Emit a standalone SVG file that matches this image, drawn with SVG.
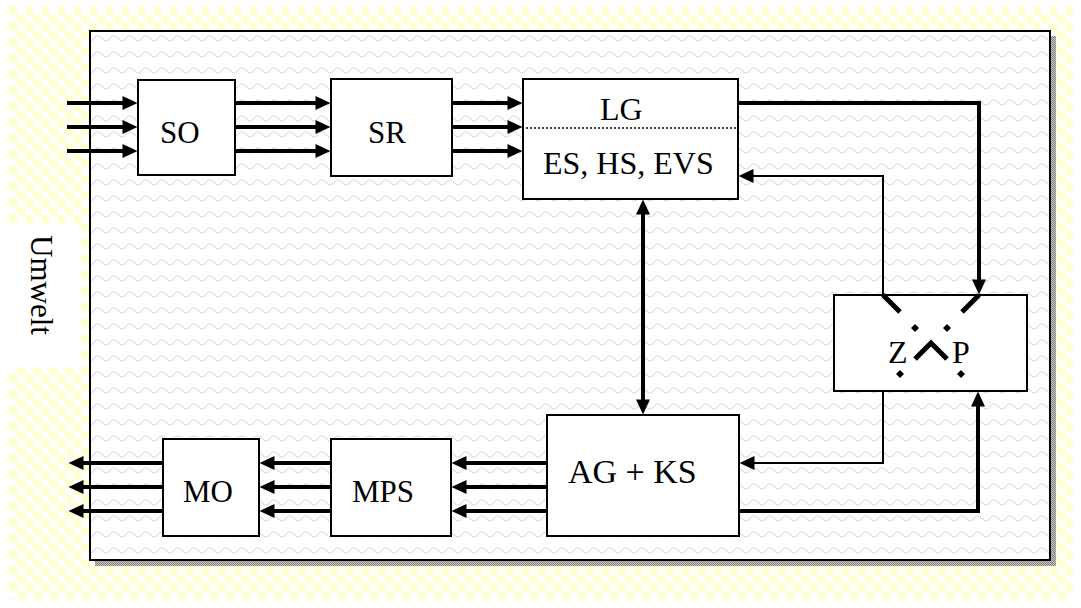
<svg xmlns="http://www.w3.org/2000/svg" width="1081" height="608" viewBox="0 0 1081 608">
<style>
.box{fill:#fff;stroke:#000;stroke-width:2}
.lbl{font-family:"Liberation Serif","Times New Roman",serif;fill:#000}
.thick{fill:none;stroke:#000;stroke-width:4;stroke-linejoin:miter}
.thin{fill:none;stroke:#000;stroke-width:2;stroke-linejoin:miter}
.mk{fill:#000}
</style>
<defs>
<pattern id="chk" width="16" height="16" patternUnits="userSpaceOnUse" x="9" y="7">
<rect width="16" height="16" fill="#fff"/>
<rect width="8" height="8" fill="#ffffcc"/>
<rect x="8" y="8" width="8" height="8" fill="#ffffcc"/>
</pattern>
<pattern id="wave" width="16" height="16" patternUnits="userSpaceOnUse" x="90" y="31">
<rect width="16" height="16" fill="#fff"/>
<path d="M0,10 C4,10 4,5 8,5 C12,5 12,10 16,10" fill="none" stroke="#e4e4e4" stroke-width="1.5"/>
</pattern>
<pattern id="speck" width="2" height="2" patternUnits="userSpaceOnUse">
<rect width="2" height="2" fill="#c8c8c8"/>
<rect width="1" height="1" fill="#7a7a7a"/>
<rect x="1" y="1" width="1" height="1" fill="#8a8a8a"/>
</pattern>
<marker id="ah" markerWidth="16" markerHeight="16" viewBox="0 -8 16 16" refX="0.5" refY="0" orient="auto-start-reverse" markerUnits="userSpaceOnUse" overflow="visible">
<path class="mk" d="M0,-7 L15,0 L0,7 Z"/>
</marker>
</defs>

<g id="background">
<rect x="9" y="7" width="1064" height="593" fill="url(#chk)"/>
<rect x="9" y="223" width="72" height="145" fill="#fff"/>
<rect x="95" y="36" width="961" height="530" fill="url(#speck)"/>
<rect x="90" y="31" width="960" height="529" fill="url(#wave)" stroke="#000" stroke-width="2"/>
</g>

<g id="umwelt">
<text class="lbl" x="31" y="285" font-size="31" text-anchor="middle" transform="rotate(90 31 285)">Umwelt</text>
</g>

<g id="connectors">
<path class="thick" d="M67,103 H123" marker-end="url(#ah)"/>
<path class="thick" d="M67,127 H123" marker-end="url(#ah)"/>
<path class="thick" d="M67,151 H123" marker-end="url(#ah)"/>
<path class="thick" d="M235,103 H316" marker-end="url(#ah)"/>
<path class="thick" d="M235,127 H316" marker-end="url(#ah)"/>
<path class="thick" d="M235,151 H316" marker-end="url(#ah)"/>
<path class="thick" d="M452,103 H508" marker-end="url(#ah)"/>
<path class="thick" d="M452,127 H508" marker-end="url(#ah)"/>
<path class="thick" d="M452,151 H508" marker-end="url(#ah)"/>
<path class="thick" d="M738,103 H979 V280" marker-end="url(#ah)"/>
<path class="thin" d="M883,295 V176 H753" marker-end="url(#ah)"/>
<path class="thick" d="M643,214 V400" marker-start="url(#ah)" marker-end="url(#ah)"/>
<path class="thin" d="M883,391 V463 H754" marker-end="url(#ah)"/>
<path class="thick" d="M739,511 H978 V406" marker-end="url(#ah)"/>
<path class="thick" d="M547,463 H466" marker-end="url(#ah)"/>
<path class="thick" d="M547,487 H466" marker-end="url(#ah)"/>
<path class="thick" d="M547,511 H466" marker-end="url(#ah)"/>
<path class="thick" d="M331,463 H274" marker-end="url(#ah)"/>
<path class="thick" d="M331,487 H274" marker-end="url(#ah)"/>
<path class="thick" d="M331,511 H274" marker-end="url(#ah)"/>
<path class="thick" d="M163,463 H83" marker-end="url(#ah)"/>
<path class="thick" d="M163,487 H83" marker-end="url(#ah)"/>
<path class="thick" d="M163,511 H83" marker-end="url(#ah)"/>
</g>

<g id="SO">
<rect class="box" x="138" y="80" width="97" height="95"/>
<text class="lbl" x="160" y="143" font-size="31">SO</text>
</g>

<g id="SR">
<rect class="box" x="331" y="79" width="121" height="97"/>
<text class="lbl" x="368" y="143" font-size="31">SR</text>
</g>

<g id="LG">
<rect class="box" x="523" y="79" width="215" height="120"/>
<line x1="526" y1="128" x2="736" y2="128" stroke="#000" stroke-width="1.5" stroke-dasharray="2,2"/>
<text class="lbl" x="600" y="120" font-size="32">LG</text>
<text class="lbl" x="543" y="174" font-size="32">ES, HS, EVS</text>
</g>

<g id="ZP">
<rect class="box" x="834" y="295" width="193" height="96"/>
<path d="M883,295 L900,312 M979,295 L962,312" fill="none" stroke="#000" stroke-width="5"/>
<path d="M915,359 L931,343 L947,359" fill="none" stroke="#000" stroke-width="5" stroke-linejoin="miter"/>
<polygon class="mk" points="915,324 919,328 915,332 911,328"/>
<polygon class="mk" points="947,324 951,328 947,332 943,328"/>
<polygon class="mk" points="900,370 904,374 900,378 896,374"/>
<polygon class="mk" points="961,370 965,374 961,378 957,374"/>
<text class="lbl" x="888" y="363" font-size="32">Z</text>
<text class="lbl" x="952" y="363" font-size="32">P</text>
</g>

<g id="AGKS">
<rect class="box" x="547" y="415" width="192" height="121"/>
<text class="lbl" x="568" y="483" font-size="34">AG + KS</text>
</g>

<g id="MPS">
<rect class="box" x="331" y="439" width="120" height="97"/>
<text class="lbl" x="352" y="502" font-size="31">MPS</text>
</g>

<g id="MO">
<rect class="box" x="163" y="439" width="96" height="97"/>
<text class="lbl" x="183" y="502" font-size="31">MO</text>
</g>
</svg>
